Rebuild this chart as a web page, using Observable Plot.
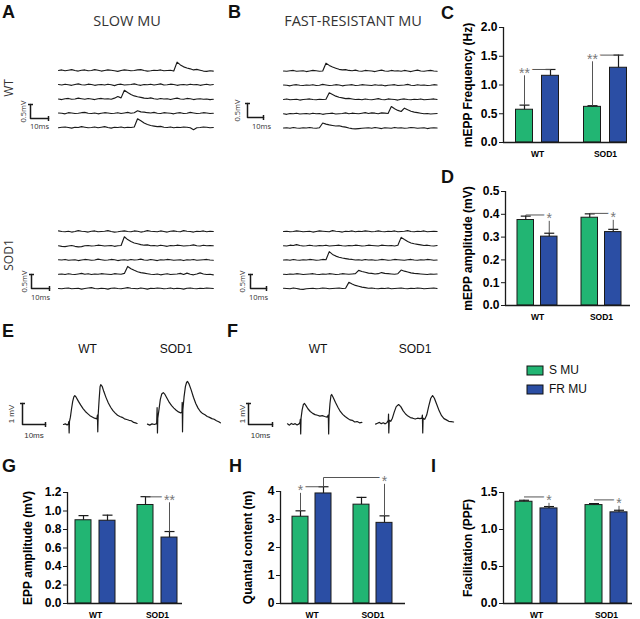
<!DOCTYPE html>
<html><head><meta charset="utf-8">
<script src="https://cdn.jsdelivr.net/npm/d3@7"></script>
<script src="https://cdn.jsdelivr.net/npm/@observablehq/plot@0.6"></script>
<style>
html,body{margin:0;padding:0;background:#fff;}
#fig{position:relative;width:640px;height:619px;overflow:hidden;font-family:"Liberation Sans",Arial,sans-serif;}
#fig > svg, #fig > div, #fig > figure{position:absolute;margin:0;}
</style></head><body><div id="fig"></div>
<script>
// ---------------- DATA ----------------
const groups = ["WT", "SOD1"];
const seriesNames = ["S MU", "FR MU"];
const colors = ["#22b573", "#2b4ea4"];

// C: mEPP frequency (Hz)
const freqS = [0.57, 0.62], freqSErr = [0.08, 0.02];
const freqFR = [1.16, 1.30], freqFRErr = [0.11, 0.22];
const freqTicks = [0, 0.5, 1.0, 1.5, 2.0];
// D: mEPP amplitude (mV)
const ampS = [0.375, 0.385], ampSErr = [0.017, 0.017];
const ampFR = [0.302, 0.322], ampFRErr = [0.015, 0.012];
const ampTicks = [0, 0.1, 0.2, 0.3, 0.4, 0.5];
// G: EPP amplitude (mV)
const eppS = [0.90, 1.065], eppSErr = [0.05, 0.09];
const eppFR = [0.895, 0.713], eppFRErr = [0.06, 0.065];
const eppTicks = [0, 0.2, 0.4, 0.6, 0.8, 1.0, 1.2];
// H: quantal content (m)
const qcS = [3.10, 3.53], qcSErr = [0.21, 0.26];
const qcFR = [3.93, 2.88], qcFRErr = [0.24, 0.25];
const qcTicks = [0, 1, 2, 3, 4];
// I: facilitation (PPF)
const ppfS = [1.375, 1.33], ppfSErr = [0.02, 0.02];
const ppfFR = [1.285, 1.232], ppfFRErr = [0.025, 0.028];
const ppfTicks = [0, 0.5, 1.0, 1.5];

// significance brackets
const sigC = [
  {g1: "WT", s1: "S MU", g2: "WT", s2: "FR MU", level: 1.27, label: "**", at: 0, stems: [true, false]},
  {g1: "SOD1", s1: "S MU", g2: "SOD1", s2: "FR MU", level: 1.52, label: "**", at: 0, stems: [true, false]}
];
const sigD = [
  {g1: "WT", s1: "S MU", g2: "WT", s2: "FR MU", level: 0.397, label: "*", at: 1, stems: [false, true]},
  {g1: "SOD1", s1: "S MU", g2: "SOD1", s2: "FR MU", level: 0.404, label: "*", at: 1, stems: [false, true]}
];
const sigG = [
  {g1: "SOD1", s1: "S MU", g2: "SOD1", s2: "FR MU", level: 1.153, label: "**", at: 1, stems: [false, true]}
];
const sigH = [
  {g1: "WT", s1: "S MU", g2: "WT", s2: "FR MU", level: 4.17, label: "*", at: 0, stems: [true, false]},
  {g1: "WT", s1: "FR MU", g2: "SOD1", s2: "FR MU", level: 4.5, label: "*", at: 1, stems: [true, true]}
];
const sigI = [
  {g1: "WT", s1: "S MU", g2: "WT", s2: "FR MU", level: 1.44, label: "*", at: 1, stems: [false, true]},
  {g1: "SOD1", s1: "S MU", g2: "SOD1", s2: "FR MU", level: 1.40, label: "*", at: 1, stems: [false, true]}
];

// mEPP sweeps, values in 1/100 mV, evenly sampled over the sweep
const sweepMsSlow = 86, sweepMsFast = 96;
const slowWT = [
  [0,2,-1,1,3,0,-2,1,2,-1,0,3,1,-2,0,2,1,-1,-3,0,2,1,-1,0,2,3,0,-2,-1,1,0,2,-1,0,1,-2,30,20,13,9,6,2,4,1,-2,-3,-1,-2],
  [1,-1,2,0,-2,1,3,0,-1,2,1,-2,0,1,-1,2,0,-3,1,2,-1,0,1,3,0,-2,1,0,2,-1,1,3,-1,0,2,1,-2,0,1,-1,2,0,1,-2,0,2,-1,1],
  [0,-2,1,2,-1,0,3,1,-1,2,0,-2,1,2,0,1,-1,3,9,4,31,23,16,11,8,6,3,2,4,1,-1,2,0,1,-2,1,3,0,-1,2,1,-2,0,1,-1,0,-2,-1],
  [1,0,-2,2,1,-1,0,2,3,0,-1,1,-2,0,2,1,-1,0,2,-1,1,3,0,2,9,5,4,2,1,3,0,-1,2,1,0,-2,1,2,-1,0,3,1,-1,0,2,1,-1,0],
  [-1,1,2,0,-2,1,0,3,1,-1,0,2,-1,1,3,0,-2,1,0,2,-1,1,0,2,31,24,16,11,7,5,3,4,1,0,2,-1,1,0,2,1,-1,-8,-1,0,2,1,-1,0]
];
const slowSOD1 = [
  [2,0,-1,1,-2,0,3,1,0,-2,1,2,-1,0,1,3,0,-2,-1,1,2,0,-1,2,1,-2,0,3,1,0,-1,2,0,-2,1,2,0,-1,3,1,0,-2,1,0,2,-1,1,0],
  [0,-2,-3,-1,1,-2,-4,-3,0,1,-1,0,2,1,-1,0,1,-2,0,1,32,22,15,10,7,4,2,3,0,1,-1,2,0,-2,1,0,2,1,-1,0,1,3,0,-1,2,0,1,0],
  [1,0,2,-1,0,1,-2,0,2,1,-1,0,3,1,-1,0,2,1,-2,0,1,-1,2,0,1,3,0,-1,2,0,-2,1,0,2,1,-1,0,1,-2,1,0,2,-1,0,1,2,0,-1],
  [0,1,-1,2,0,-1,1,3,0,2,-1,1,0,2,1,0,-1,2,1,0,3,28,20,14,9,6,4,2,0,-1,1,-2,0,2,-1,0,1,3,-1,4,0,-2,1,5,1,-1,0,-2],
  [0,-1,1,2,-1,0,1,-2,0,2,3,0,-1,1,0,-2,1,2,0,-1,1,3,1,0,-1,2,0,-2,1,0,2,1,-1,0,2,-1,1,0,-2,1,2,0,-1,1,0,2,1,0]
];
const fastWT = [
  [0,-1,1,2,-1,0,1,-2,0,2,1,-1,0,28,20,14,10,6,4,5,2,1,3,0,-1,2,1,0,-2,1,3,0,-1,2,0,1,-1,2,0,-2,1,3,0,-1,1,2,0,-1],
  [1,0,-2,1,2,0,-1,1,0,2,-1,0,3,1,-1,0,2,1,-2,0,1,2,-1,0,2,1,0,-1,2,0,1,-2,0,1,2,-1,0,1,3,0,-1,2,0,1,-1,0,2,1],
  [0,2,-1,0,1,-2,0,1,2,0,-1,1,0,1,24,18,12,8,6,3,4,2,0,1,-1,2,0,-1,1,3,0,-1,2,1,0,-2,1,2,0,-1,1,0,2,-1,0,1,2,0],
  [0,-2,1,0,2,-1,0,1,-1,2,0,1,-2,0,1,2,-1,0,1,3,0,2,1,0,2,4,1,3,2,0,3,2,1,26,18,12,8,20,14,9,6,4,2,0,1,-1,0,1],
  [0,1,-1,2,0,-1,1,0,2,0,-1,1,18,14,11,9,7,8,5,3,0,-2,-3,-2,-1,0,1,-1,2,0,-2,1,0,-1,2,0,1,-1,0,2,1,-1,0,1,-2,0,1,0]
];
const fastSOD1 = [
  [0,1,-1,0,2,1,-1,0,1,-2,0,2,1,0,-1,3,1,0,-2,1,0,2,-1,1,0,2,1,-1,0,2,0,-1,1,0,2,-1,0,1,3,0,-1,1,0,2,-1,0,1,0],
  [0,-1,2,1,4,1,-1,0,2,0,-1,1,0,2,-1,0,1,2,0,-1,1,0,2,1,-1,0,2,1,0,-1,2,1,0,1,-1,2,30,22,15,10,7,5,3,1,2,0,-1,1],
  [0,1,-1,2,0,-1,1,0,2,1,-1,0,2,1,30,20,14,10,7,5,3,2,0,1,-1,2,0,1,-1,0,2,1,-1,0,2,1,0,-1,1,2,0,-1,1,0,2,1,-1,0],
  [0,-1,1,0,2,1,-1,0,1,2,0,-1,1,0,2,1,-1,0,2,1,0,1,2,14,10,7,4,3,1,2,6,3,2,1,0,2,15,11,8,5,3,2,1,0,-1,1,0,1],
  [1,0,-1,2,0,-2,-3,-1,0,1,-1,0,2,1,-1,0,1,2,0,1,22,16,11,8,5,3,1,2,0,-1,1,0,2,-1,0,1,2,0,-1,1,0,2,1,-1,0,1,2,0]
];

// EPP pairs: [ms, mV]
const eppSlowWT = [[0,0],[0.8,0.03],[1.6,-0.02],[2.1,0.02],[2.3,0.14],[2.45,-0.4],[2.6,0.15],[3.0,0.35],[3.5,0.75],[4.0,1.1],[4.5,1.32],[4.9,1.38],[5.5,1.3],[6.5,1.1],[7.5,0.92],[8.5,0.76],[9.5,0.62],[10.5,0.52],[11.5,0.42],[12.5,0.36],[13.5,0.3],[14.5,0.27],[14.75,0.45],[14.9,-0.35],[15.1,0.5],[15.5,1.2],[15.9,1.8],[16.2,1.9],[16.8,1.82],[17.5,1.58],[18.5,1.28],[19.5,1.02],[20.5,0.82],[21.5,0.66],[22.5,0.54],[23.5,0.44],[24.5,0.38],[25.5,0.34],[26.5,0.27],[27.5,0.24],[28.5,0.2],[29.5,0.18],[30.5,0.1],[31.3,0.08],[32,0.05]];
const eppSlowSOD1 = [[0,0.02],[1,-0.03],[2,0.03],[3,0],[4,0.04],[4.2,0.8],[4.35,-0.4],[4.5,0.3],[5,0.7],[5.6,1.2],[6.2,1.45],[6.9,1.52],[7.5,1.45],[8.5,1.25],[9.5,1.05],[10.5,0.9],[11.5,0.78],[12.5,0.68],[13.5,0.6],[14.5,0.55],[15.0,0.6],[15.1,1.05],[15.25,-0.35],[15.4,0.7],[15.9,1.3],[16.5,1.8],[17.0,2.0],[17.4,2.05],[18,1.95],[19,1.65],[20,1.3],[21,1.0],[22,0.78],[23,0.62],[24,0.52],[25,0.46],[26,0.38],[27,0.34],[28,0.28],[29,0.25],[30,0.18],[31,0.13],[31.7,0.08]];
const eppFastWT = [[0,0.03],[0.8,-0.03],[1.6,0.05],[2.4,0],[3.2,0.04],[4,-0.02],[4.8,0.03],[5.2,0.1],[5.35,0.25],[5.5,-0.45],[5.65,0.3],[6.1,0.7],[6.6,0.95],[7.1,1.0],[7.7,0.9],[8.5,0.75],[9.5,0.62],[10.5,0.53],[11.5,0.47],[12.5,0.44],[13.5,0.4],[14.5,0.42],[15.5,0.38],[16.5,0.35],[17.0,0.45],[17.15,-0.45],[17.3,0.4],[17.7,1.0],[18.1,1.38],[18.4,1.43],[19,1.3],[20,1.05],[21,0.82],[22,0.62],[23,0.48],[24,0.38],[25,0.3],[26,0.22],[27,0.2],[28,0.12],[29,0.14],[30,0.08],[31,0.1]];
const eppFastSOD1 = [[0,0.02],[0.8,0.06],[1.6,0.1],[2.4,0.04],[3.2,0.08],[4.0,0.03],[4.8,0.1],[5.3,0.2],[5.4,0.5],[5.5,-0.4],[5.7,0.2],[6.3,0.15],[7.0,0.3],[7.8,0.6],[8.6,0.85],[9.6,0.95],[10.5,0.85],[11.5,0.65],[12.5,0.5],[13.5,0.4],[14.5,0.33],[15.5,0.3],[16.5,0.26],[17.5,0.3],[18.5,0.28],[19.3,0.3],[19.5,0.45],[19.65,-0.4],[19.8,0.3],[20.5,0.25],[21.3,0.45],[22.2,0.9],[23,1.25],[23.75,1.38],[24.5,1.25],[25.5,0.95],[26.5,0.65],[27.5,0.42],[28.5,0.28],[29.5,0.22],[30.5,0.15],[31.5,0.14],[32.5,0.12]];

const scaleMepp = {ms: 10, mV: 0.5};
const scaleEpp = {ms: 10, mV: 1};

// ---------------- DRAWING ----------------
const fig = document.getElementById("fig");
const ink = "#1a1a1a";
const FONT = "Liberation Sans, Arial, sans-serif";
const baseStyle = {background: "transparent", overflow: "visible", fontFamily: FONT, color: "#000"};

function place(el, left, top) {
  el.style.position = "absolute";
  el.style.left = left + "px";
  el.style.top = top + "px";
  fig.appendChild(el);
}

function barPanel(p) {
  const mL = p.axis - p.left, mR = p.left + p.width - p.right;
  const mT = p.yTop - p.top, mB = p.top + p.height - p.yBottom;
  const toX = px => (px - p.c0) / p.step;
  const off = (p.gap / 2 + p.barW / 2) / p.step;
  const half = p.barW / 2 / p.step;
  const capHalf = 5 / p.step;
  const rows = [];
  groups.forEach((g, gi) => seriesNames.forEach((s, si) => rows.push({
    g, s, si, mean: p.means[si][gi], err: p.errs[si][gi], cx: gi + (si ? off : -off)
  })));
  const find = (g, s) => rows.find(d => d.g === g && d.s === s);
  const segs = [], labels = [];
  const eps = p.yMax * 0.004;
  p.sig.forEach(a => {
    const A = find(a.g1, a.s1), B = find(a.g2, a.s2);
    segs.push({x1: A.cx, y1: a.level, x2: B.cx, y2: a.level});
    if (a.stems[0] && a.level - (A.mean + A.err) > eps) segs.push({x1: A.cx, y1: A.mean + A.err, x2: A.cx, y2: a.level});
    if (a.stems[1] && a.level - (B.mean + B.err) > eps) segs.push({x1: B.cx, y1: B.mean + B.err, x2: B.cx, y2: a.level});
    labels.push({x: a.at ? B.cx : A.cx, y: a.level, label: a.label});
  });
  const svg = Plot.plot({
    width: p.width, height: p.height,
    marginLeft: mL, marginRight: mR, marginTop: mT, marginBottom: mB,
    x: {domain: [toX(p.axis), toX(p.right)]},
    y: {domain: [0, p.yMax]},
    style: baseStyle,
    marks: [
      Plot.rectY(rows, {x1: d => d.cx - half, x2: d => d.cx + half, y1: 0, y2: "mean",
        fill: d => colors[d.si], stroke: ink, strokeWidth: 1}),
      Plot.ruleX(rows, {x: "cx", y1: "mean", y2: d => d.mean + d.err, stroke: ink, strokeWidth: 1.2}),
      Plot.link(rows, {x1: d => d.cx - capHalf, x2: d => d.cx + capHalf, y1: d => d.mean + d.err, y2: d => d.mean + d.err, stroke: ink, strokeWidth: 1.2}),
      Plot.link(segs, {x1: "x1", y1: "y1", x2: "x2", y2: "y2", stroke: "#555", strokeWidth: 1}),
      Plot.text(labels, {x: "x", y: "y", text: "label", fontSize: 14, fill: "#777", stroke: "white", strokeWidth: 5, paintOrder: "stroke", dy: 4}),
      Plot.ruleY([0], {stroke: ink, strokeWidth: 1.3}),
      Plot.ruleX([toX(p.axis)], {y1: 0, y2: p.yMax, stroke: ink, strokeWidth: 1.3}),
      Plot.axisY({ticks: p.ticks, tickFormat: p.fmt, tickSize: 4, tickPadding: 2, fontSize: 12, fontWeight: "bold", label: null, stroke: ink}),
      Plot.axisX({ticks: groups.map((g, i) => i), tickFormat: i => groups[i], tickSize: 0, tickPadding: 8, fontSize: 8.5, fontWeight: "bold", label: null}),
      Plot.text([p.title], {frameAnchor: "left", textAnchor: "middle", rotate: -90, dx: p.titleX - p.axis, fontSize: 12, fontWeight: "bold"})
    ]
  });
  place(svg, p.left, p.top);
}

barPanel({left: 440, top: 0, width: 200, height: 164, axis: 503, right: 627, yTop: 27, yBottom: 142,
  c0: 537, step: 68, barW: 17, gap: 9, yMax: 2, ticks: freqTicks, fmt: ".1f",
  means: [freqS, freqFR], errs: [freqSErr, freqFRErr], sig: sigC, title: "mEPP Frequency (Hz)", titleX: 468});
barPanel({left: 440, top: 165, width: 200, height: 162, axis: 505, right: 630, yTop: 191, yBottom: 305,
  c0: 537, step: 64, barW: 16.5, gap: 7, yMax: 0.5, ticks: ampTicks, fmt: ".1f",
  means: [ampS, ampFR], errs: [ampSErr, ampFRErr], sig: sigD, title: "mEPP amplitude (mV)", titleX: 468});
barPanel({left: 0, top: 470, width: 215, height: 149, axis: 67, right: 182, yTop: 492, yBottom: 603,
  c0: 95, step: 62, barW: 16, gap: 8, yMax: 1.2, ticks: eppTicks, fmt: ".1f",
  means: [eppS, eppFR], errs: [eppSErr, eppFRErr], sig: sigG, title: "EPP amplitude (mV)", titleX: 28});
barPanel({left: 215, top: 470, width: 215, height: 149, axis: 280, right: 405, yTop: 491, yBottom: 603,
  c0: 311.5, step: 61, barW: 16, gap: 7, yMax: 4, ticks: qcTicks, fmt: "d",
  means: [qcS, qcFR], errs: [qcSErr, qcFRErr], sig: sigH, title: "Quantal content (m)", titleX: 248});
barPanel({left: 430, top: 470, width: 210, height: 149, axis: 503, right: 632, yTop: 492, yBottom: 603,
  c0: 536, step: 70, barW: 17, gap: 8, yMax: 1.5, ticks: ppfTicks, fmt: ".1f",
  means: [ppfS, ppfFR], errs: [ppfSErr, ppfFRErr], sig: sigI, title: "Facilitation (PPF)", titleX: 468});

function tracePanel(p) {
  const tA = (p.left - p.ox) / p.pxMs, tB = (p.left + p.width - p.ox) / p.pxMs;
  const vA = (p.oy - p.top - p.height) / p.pxMv, vB = (p.oy - p.top) / p.pxMv;
  const t0 = (p.barX - p.ox) / p.pxMs, v0 = (p.oy - p.barY) / p.pxMv;
  const capT = 2.5 / p.pxMs, capV = 2.5 / p.pxMv;
  const b = p.bar;
  const marks = [];
  (p.rows || []).forEach((row, r) => {
    const dt = p.sweepMs / (row.length - 1);
    marks.push(Plot.line(row, {x: (d, i) => i * dt, y: d => d / 100 - r * p.rowGap, stroke: ink, strokeWidth: 1.15}));
  });
  (p.traces || []).forEach(tr => {
    marks.push(Plot.line(tr.data, {x: d => d[0] + tr.offset, y: d => d[1], stroke: ink, strokeWidth: 1.2}));
  });
  marks.push(Plot.line([[t0, v0 + b.mV], [t0, v0], [t0 + b.ms, v0]], {x: d => d[0], y: d => d[1], stroke: ink, strokeWidth: 1.5}));
  marks.push(Plot.link([[t0 - capT, v0 + b.mV, t0 + capT, v0 + b.mV], [t0 + b.ms, v0 - capV, t0 + b.ms, v0 + capV]],
    {x1: d => d[0], y1: d => d[1], x2: d => d[2], y2: d => d[3], stroke: ink, strokeWidth: 1.5}));
  marks.push(Plot.text([b], {x: t0, y: v0 + b.mV / 2, text: d => d.mV + p.sep + "mV", rotate: -90, dx: p.mvDx, fontSize: p.fs, fontFamily: p.font, fill: "#333"}));
  marks.push(Plot.text([b], {x: t0 + b.ms / 2, y: v0, text: d => d.ms + "ms", dx: p.msDx, dy: p.msDy, fontSize: p.fs, fontFamily: p.font, fill: "#333"}));
  const svg = Plot.plot({
    width: p.width, height: p.height, margin: 0,
    x: {domain: [tA, tB], range: [0, p.width], axis: null},
    y: {domain: [vA, vB], range: [p.height, 0], axis: null},
    style: baseStyle, marks
  });
  place(svg, p.left, p.top);
}

const mep = {pxMs: 1.8, pxMv: 28, rowGap: 0.509, sep: "", fs: 7.5, font: "Open Sans"};
tracePanel({...mep, left: 0, top: 55, width: 228, height: 80, ox: 58, oy: 70, sweepMs: sweepMsSlow, rows: slowWT,
  bar: scaleMepp, barX: 30, barY: 118, mvDx: -7, msDx: 0, msDy: 8});
tracePanel({...mep, left: 0, top: 215, width: 228, height: 90, ox: 58, oy: 231, sweepMs: sweepMsSlow, rows: slowSOD1,
  bar: scaleMepp, barX: 31, barY: 288, mvDx: -7, msDx: 0, msDy: 9});
tracePanel({...mep, pxMs: 1.6, left: 228, top: 55, width: 212, height: 80, ox: 283, oy: 70.5, sweepMs: sweepMsFast, rows: fastWT,
  bar: scaleMepp, barX: 247, barY: 117, mvDx: -10, msDx: 6, msDy: 9});
tracePanel({...mep, pxMs: 1.6, left: 228, top: 215, width: 212, height: 90, ox: 283, oy: 231, sweepMs: sweepMsFast, rows: fastSOD1,
  bar: scaleMepp, barX: 250, barY: 288, mvDx: -8, msDx: 0, msDy: 9});

tracePanel({left: 0, top: 385, width: 228, height: 60, ox: 63, oy: 424, pxMs: 2.3, pxMv: 21,
  traces: [{data: eppSlowWT, offset: 0}, {data: eppSlowSOD1, offset: 36.5}],
  bar: scaleEpp, barX: 22, barY: 424, sep: " ", fs: 8, font: FONT, mvDx: -11, msDx: 0, msDy: 11});
tracePanel({left: 228, top: 385, width: 240, height: 60, ox: 287, oy: 424, pxMs: 2.4, pxMv: 21,
  traces: [{data: eppFastWT, offset: 0}, {data: eppFastSOD1, offset: 36.7}],
  bar: scaleEpp, barX: 248, barY: 424, sep: " ", fs: 8, font: FONT, mvDx: -6, msDx: 0, msDy: 11});

// legend
const leg = Plot.legend({color: {type: "ordinal", domain: seriesNames, range: colors}, legend: "swatches",
  columns: 1, swatchWidth: 16, swatchHeight: 9, style: {fontSize: "12px", fontFamily: FONT, color: "#111", lineHeight: "18px"}});
leg.querySelectorAll("svg").forEach(s => { s.style.overflow = "visible"; });
leg.querySelectorAll("svg rect").forEach(r => { r.setAttribute("stroke", "#111"); r.setAttribute("stroke-width", "1"); });
place(leg, 527, 361);

// text overlay
const ov = d3.select(fig).append("svg").attr("width", 640).attr("height", 619)
  .style("position", "absolute").style("left", "0px").style("top", "0px").style("pointer-events", "none");
const panelLetters = [["A", 2, 18], ["B", 228, 18], ["C", 441, 19], ["D", 441, 183], ["E", 2, 337], ["F", 227, 337], ["G", 2, 472], ["H", 229, 472], ["I", 431, 472]];
panelLetters.forEach(([t, x, y]) => ov.append("text").attr("x", x).attr("y", y).text(t)
  .attr("font-family", FONT).attr("font-weight", "bold").attr("font-size", 18).attr("fill", "#111"));
const headings = [["SLOW MU", 127, 26], ["FAST-RESISTANT MU", 353, 26]];
headings.forEach(([t, x, y]) => ov.append("text").attr("x", x).attr("y", y).text(t).attr("text-anchor", "middle")
  .attr("font-family", "Open Sans").attr("font-size", 14.5).attr("fill", "#333"));
const rowLabels = [["WT", 88], ["SOD1", 255]];
rowLabels.forEach(([t, y]) => ov.append("text").attr("transform", `translate(13,${y}) rotate(-90)`).text(t)
  .attr("text-anchor", "middle").attr("font-family", "Open Sans").attr("font-size", 12).attr("fill", "#333"));
const eppLabels = [["WT", 87.5], ["SOD1", 176], ["WT", 318], ["SOD1", 415]];
eppLabels.forEach(([t, x]) => ov.append("text").attr("x", x).attr("y", 353).text(t).attr("text-anchor", "middle")
  .attr("font-family", FONT).attr("font-size", 12).attr("fill", "#111"));
</script></body></html>
